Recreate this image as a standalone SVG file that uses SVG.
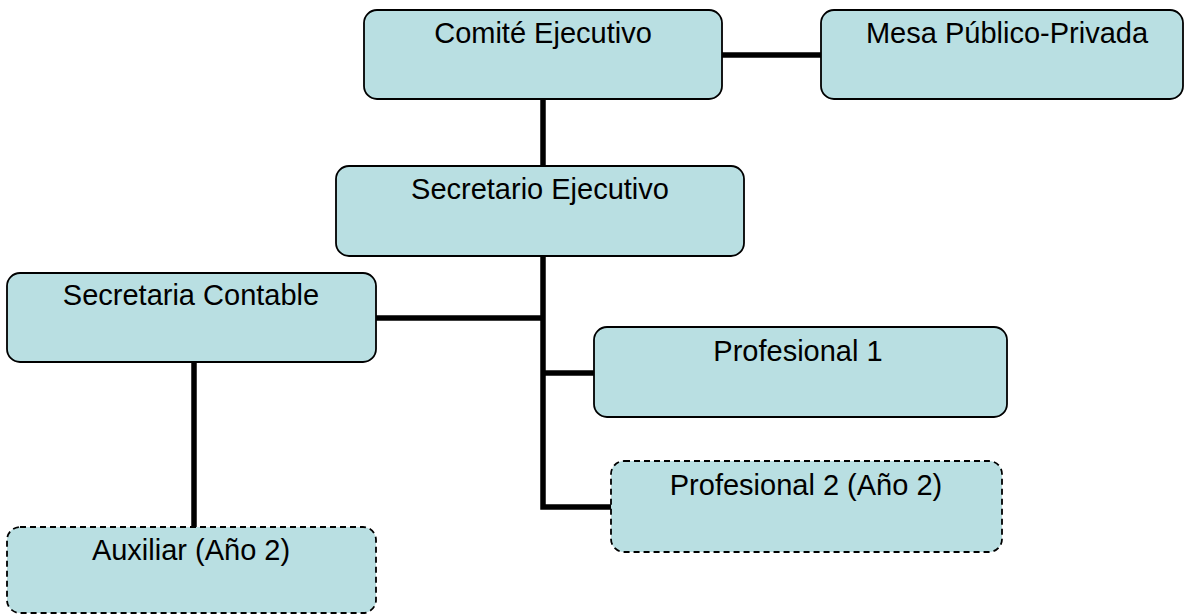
<svg xmlns="http://www.w3.org/2000/svg" width="1186" height="615" viewBox="0 0 1186 615">
<style>
.box{fill:#b9dfe2;stroke:#000;stroke-width:1.8}
.dash{stroke-dasharray:6 4}
.lbl{font-family:"Liberation Sans",Arial,sans-serif;font-size:29px;fill:#000;text-anchor:middle}
.con{stroke:#000;stroke-width:5.5;fill:none}
</style>
<rect width="1186" height="615" fill="#fff"/>
<g id="connectors">
<line class="con" x1="722" y1="55" x2="821" y2="55"/>
<line class="con" x1="543" y1="99" x2="543" y2="166"/>
<polyline class="con" points="543,256 543,507 611,507"/>
<line class="con" x1="376" y1="318" x2="543" y2="318"/>
<line class="con" x1="543" y1="373" x2="594" y2="373"/>
<line class="con" x1="194" y1="362" x2="194" y2="527"/>
</g>
<g id="comite"><rect class="box" x="364" y="10" width="358" height="89" rx="13"/><text class="lbl" x="543" y="43">Comité Ejecutivo</text></g>
<g id="mesa"><rect class="box" x="821" y="10" width="362" height="89" rx="13"/><text class="lbl" x="1007" y="43">Mesa Público-Privada</text></g>
<g id="secretario"><rect class="box" x="336" y="166" width="408" height="90" rx="13"/><text class="lbl" x="540" y="199">Secretario Ejecutivo</text></g>
<g id="contable"><rect class="box" x="7" y="273" width="369" height="89" rx="13"/><text class="lbl" x="191" y="305">Secretaria Contable</text></g>
<g id="prof1"><rect class="box" x="594" y="327" width="413" height="90" rx="13"/><text class="lbl" x="798" y="361">Profesional 1</text></g>
<g id="prof2"><rect class="box dash" x="611" y="461" width="391" height="91" rx="13"/><text class="lbl" x="806" y="495">Profesional 2 (Año 2)</text></g>
<g id="auxiliar"><rect class="box dash" x="7" y="527" width="369" height="86" rx="13"/><text class="lbl" x="191" y="560">Auxiliar (Año 2)</text></g>
</svg>
